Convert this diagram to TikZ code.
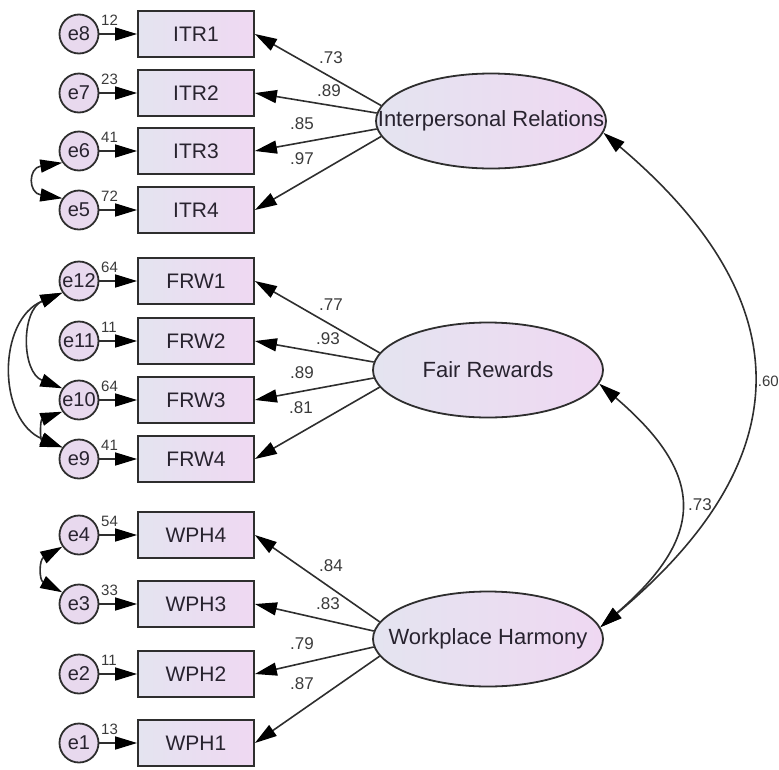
\documentclass[tikz,border=0pt]{standalone}
\usepackage{fontspec}
\setmainfont{Liberation Sans}
\usetikzlibrary{arrows.meta,shapes.geometric}
\definecolor{boxL}{HTML}{E4E4F0}
\definecolor{boxR}{HTML}{EFD8F2}
\definecolor{circ}{HTML}{E8D9EE}
\definecolor{edge}{HTML}{2E2E2E}
\definecolor{ink}{HTML}{28232F}
\definecolor{num}{HTML}{3A3A3A}
\begin{document}
\begin{tikzpicture}[x=1pt,y=-1pt,
  >={Triangle[length=22pt,width=13pt,color=black]},
  obs/.style={draw=edge,line width=1.8pt,left color=boxL,right color=boxR,
    minimum width=116pt,minimum height=46pt,inner sep=0pt,text=ink,
    font=\fontsize{21}{24}\selectfont},
  err/.style={circle,draw=edge,line width=1.8pt,fill=circ,minimum size=39pt,
    inner sep=0pt,text=ink,font=\fontsize{20}{22}\selectfont},
  lat/.style={ellipse,draw=edge,line width=1.8pt,left color=boxL,right color=boxR,
    minimum width=230pt,minimum height=95pt,inner sep=0pt,text=ink,
    font=\fontsize{22}{24}\selectfont},
  ld/.style={->,draw=edge,line width=1.6pt},
  cov/.style={<->,draw=edge,line width=1.6pt},
  var/.style={anchor=west,inner sep=0pt,text=num,font=\fontsize{15}{17}\selectfont},
  coef/.style={inner sep=0pt,text=num,font=\fontsize{17}{19}\selectfont}]
\useasboundingbox (0,0) rectangle (779,769);

% observed indicators
\node[obs] (ITR1) at (196,34)  {ITR1};
\node[obs] (ITR2) at (196,93)  {ITR2};
\node[obs] (ITR3) at (196,151) {ITR3};
\node[obs] (ITR4) at (196,210) {ITR4};
\node[obs] (FRW1) at (196,281) {FRW1};
\node[obs] (FRW2) at (196,341) {FRW2};
\node[obs] (FRW3) at (196,400) {FRW3};
\node[obs] (FRW4) at (196,459) {FRW4};
\node[obs] (WPH4) at (196,535) {WPH4};
\node[obs] (WPH3) at (196,604) {WPH3};
\node[obs] (WPH2) at (196,674) {WPH2};
\node[obs] (WPH1) at (196,743) {WPH1};

% error terms
\node[err] (e8)  at (79,34)  {e8};
\node[err] (e7)  at (79,93)  {e7};
\node[err] (e6)  at (79,151) {e6};
\node[err] (e5)  at (79,210) {e5};
\node[err] (e12) at (79,281) {e12};
\node[err] (e11) at (79,341) {e11};
\node[err] (e10) at (79,400) {e10};
\node[err] (e9)  at (79,459) {e9};
\node[err] (e4)  at (79,535) {e4};
\node[err] (e3)  at (79,604) {e3};
\node[err] (e2)  at (79,674) {e2};
\node[err] (e1)  at (79,743) {e1};

% latent factors
\node[lat] (IR) at (491,121) {\makebox[0pt]{Interpersonal Relations}};
\node[lat] (FR) at (488,370) {\makebox[0pt]{Fair Rewards}};
\node[lat] (WH) at (488,639) {\makebox[0pt]{Workplace Harmony}};

% error paths and squared multiple correlations
\foreach \e/\o/\v in {e8/ITR1/12,e7/ITR2/23,e6/ITR3/41,e5/ITR4/72,
                      e12/FRW1/64,e11/FRW2/11,e10/FRW3/64,e9/FRW4/41,
                      e4/WPH4/54,e3/WPH3/33,e2/WPH2/11,e1/WPH1/13}{
  \draw[ld] (\e) -- (\o);
  \node[var] at ([xshift=22pt,yshift=14pt]\e.center) {\v};
}

% factor loadings
\draw[ld] (IR.172) -- (ITR1.east);
\draw[ld] (IR.176) -- (ITR2.east);
\draw[ld] (IR.184) -- (ITR3.east);
\draw[ld] (IR.188) -- (ITR4.east);
\draw[ld] (FR.171) -- (FRW1.east);
\draw[ld] (FR.176) -- (FRW2.east);
\draw[ld] (FR.184) -- (FRW3.east);
\draw[ld] (FR.189) -- (FRW4.east);
\draw[ld] (WH.171) -- (WPH4.east);
\draw[ld] (WH.176) -- (WPH3.east);
\draw[ld] (WH.184) -- (WPH2.east);
\draw[ld] (WH.189) -- (WPH1.east);

\node[coef] at (331,58)  {.73};
\node[coef] at (329,91)  {.89};
\node[coef] at (302,124) {.85};
\node[coef] at (302,159) {.97};
\node[coef] at (331,305) {.77};
\node[coef] at (328,339) {.93};
\node[coef] at (302,373) {.89};
\node[coef] at (301,408) {.81};
\node[coef] at (331,566) {.84};
\node[coef] at (328,604) {.83};
\node[coef] at (302,644) {.79};
\node[coef] at (302,684) {.87};

% error covariances
\draw[cov] (e6.215) .. controls (28,168) and (28,193) .. (e5.145);
\draw[cov] (e12.215) .. controls (21,310) and (21,372) .. (e10.145);
\draw[cov] (e12.215) .. controls (-3,320) and (-3,420) .. (e9.145);
\draw[cov] (e10.215) .. controls (40,420) and (40,440) .. (e9.145);
\draw[cov] (e4.215) .. controls (39,560) and (39,580) .. (e3.145);

% factor correlations
\draw[cov] (IR.-6) .. controls (802,301) and (802,459) .. (WH.6);
\draw[cov] (FR.-7) .. controls (706,475) and (706,536) .. (WH.6);
\node[coef,anchor=east,font=\fontsize{15}{17}\selectfont] at (779,381) {.60};
\node[coef] at (700,505) {.73};
\end{tikzpicture}
\end{document}
